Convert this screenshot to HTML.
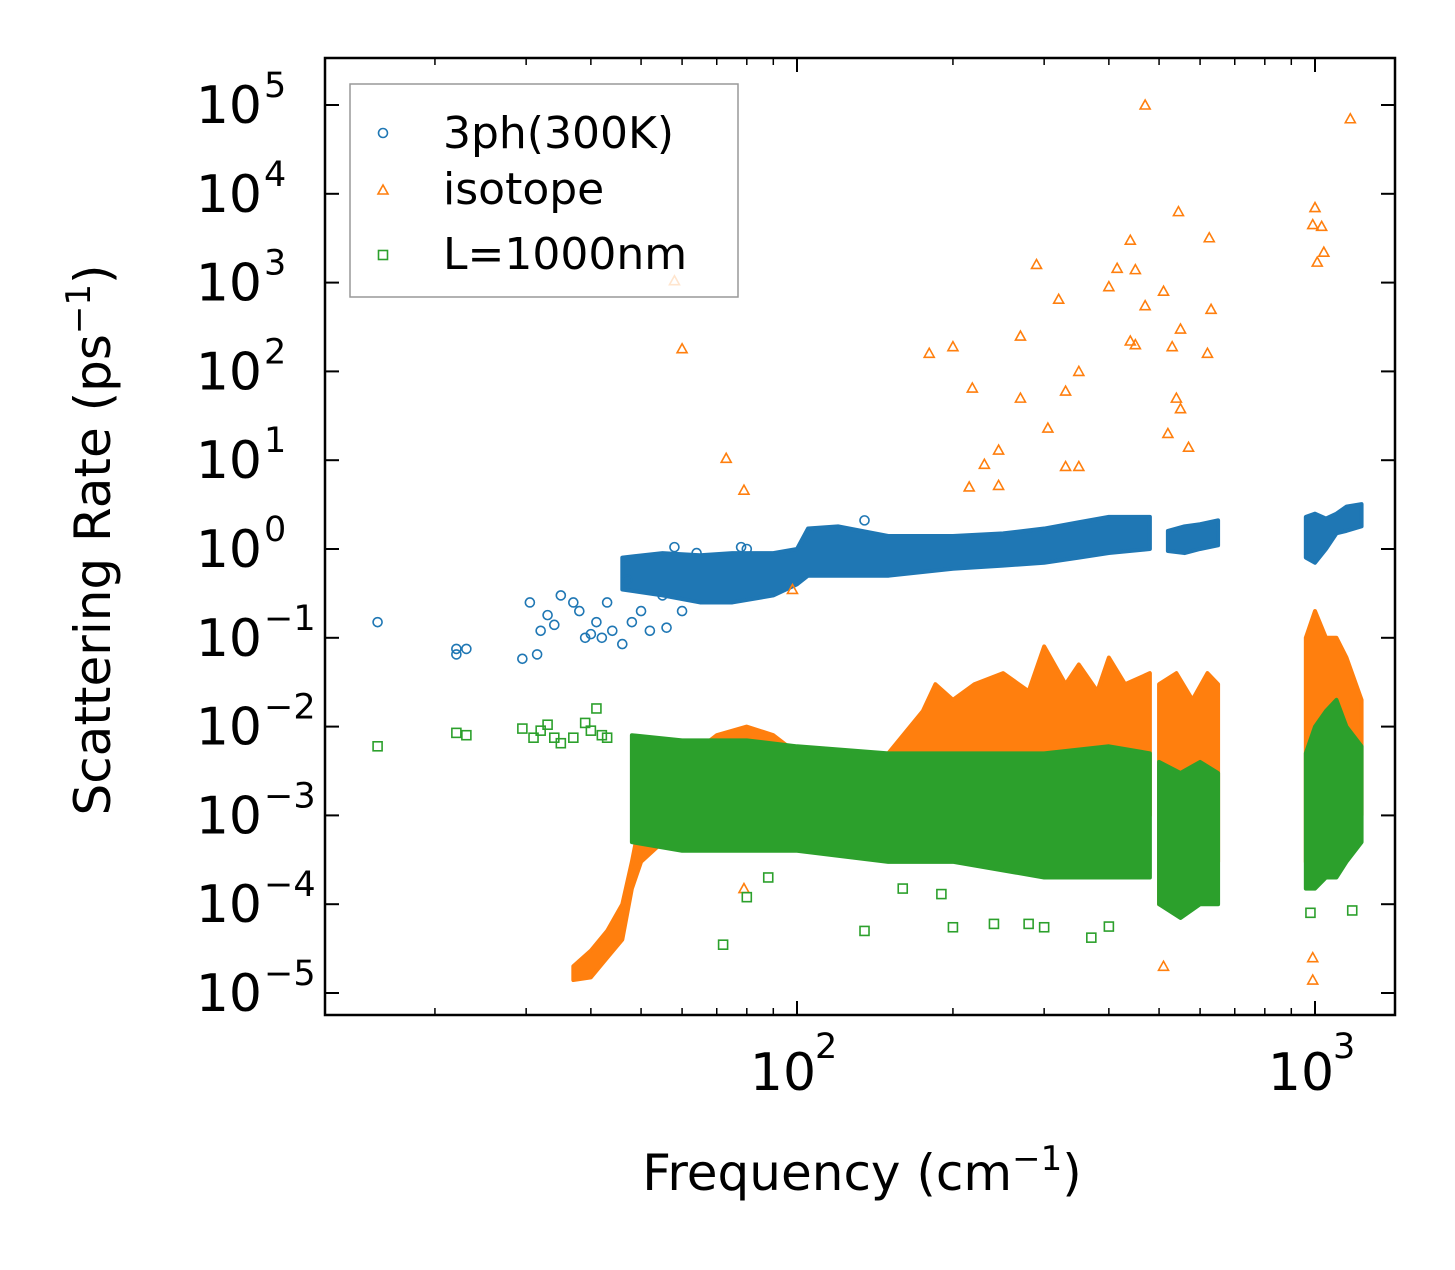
<!DOCTYPE html>
<html><head><meta charset="utf-8"><style>
body{margin:0;background:#fff}
svg text{font-family:"DejaVu Sans","Liberation Sans",sans-serif;fill:#000}
</style></head><body>
<svg id="chart" width="1455" height="1265" xmlns="http://www.w3.org/2000/svg">
<g id="bands"></g><g id="pts"></g><g id="axes"></g>
</svg>
<script>
// ---- data ----
const xTicks=[100,1000];
const yTicks=[1e-5,1e-4,1e-3,1e-2,1e-1,1,10,100,1000,1e4,1e5];
const yExp=[-5,-4,-3,-2,-1,0,1,2,3,4,5];
const blueF=[15.5,22,22,23,29.5,30.5,31.5,32,33,34,35,37,38,39,40,41,42,43,44,46,47,48,50,52,55,56,58,60,64,78,80,135];
const blueV=[0.15,0.065,0.075,0.075,0.058,0.25,0.065,0.12,0.18,0.14,0.3,0.25,0.2,0.1,0.11,0.15,0.1,0.25,0.12,0.085,0.45,0.15,0.2,0.12,0.3,0.13,1.05,0.2,0.9,1.05,1.0,2.1];
const orangeF=[470,1170,545,1000,990,1030,1040,1010,625,440,290,415,450,58,400,510,320,630,470,270,550,180,200,450,440,620,530,60,350,218,330,270,540,550,305,520,570,245,230,330,350,73,79,215,245,98,510,990,990,79];
const orangeV=[1e5,7e4,6300,7000,4500,4300,2200,1700,3200,3000,1600,1450,1400,1050,900,800,650,500,550,250,300,160,190,200,220,160,190,180,100,65,60,50,50,38,23,20,14,13,9,8.5,8.5,10.5,4.6,5,5.2,0.35,2e-5,2.5e-5,1.4e-5,1.5e-4];
const greenF=[15.5,22,23,29.5,31,32,33,34,35,37,39,40,41,42,43,72,135,200,240,280,300,370,400,1180,88,80,160,190,980];
const greenV=[0.006,0.0085,0.008,0.0095,0.0075,0.009,0.0105,0.0075,0.0065,0.0075,0.011,0.009,0.016,0.008,0.0075,3.5e-5,5e-5,5.5e-5,6e-5,6e-5,5.5e-5,4.2e-5,5.6e-5,8.5e-5,2e-4,1.2e-4,1.5e-4,1.3e-4,8e-5];
// dense-cloud envelopes
const blueBandF1=[46,55,65,75,90,100,105,120,150,200,250,300,350,400,480];
const blueBandLo1=[0.35,0.3,0.25,0.25,0.3,0.4,0.5,0.5,0.5,0.6,0.65,0.7,0.8,0.9,1.0];
const blueBandHi1=[0.8,0.9,0.85,0.9,0.9,1.0,1.7,1.8,1.4,1.4,1.5,1.7,2.0,2.3,2.3];
const blueBandF2=[520,560,600,650];
const blueBandLo2=[0.95,0.9,1.0,1.1];
const blueBandHi2=[1.6,1.8,1.9,2.1];
const blueBandF3=[960,1000,1050,1100,1150,1230];
const blueBandLo3=[0.8,0.7,1.0,1.5,1.6,1.8];
const blueBandHi3=[2.3,2.5,2.2,2.5,3.0,3.2];
const orBandF1=[37,40,43,46,48,50,55,60,70,80,90,100,120,150,175,185,200,220,250,280,300,330,350,380,400,430,480];
const orBandLo1=[1.4e-5,1.5e-5,2.5e-5,4e-5,1.5e-4,3e-4,5e-4,6e-4,6e-4,7e-4,8e-4,8e-4,1e-3,1e-3,1e-3,1e-3,1e-3,1e-3,1e-3,1e-3,1e-3,1e-3,1e-3,1e-3,1e-3,1e-3,1e-3];
const orBandHi1=[2e-5,3e-5,5e-5,1e-4,3e-4,1e-3,3e-3,4e-3,8e-3,1e-2,8e-3,5e-3,4e-3,5e-3,1.5e-2,3e-2,2e-2,3e-2,4e-2,2.5e-2,8e-2,3e-2,5e-2,2.5e-2,6e-2,3e-2,4e-2];
const orBandF2=[500,540,580,620,650];
const orBandLo2=[1e-4,8e-5,2e-4,3e-4,3e-4];
const orBandHi2=[3e-2,4e-2,2e-2,4e-2,3e-2];
const orBandF3=[960,1000,1050,1100,1150,1230];
const orBandLo3=[3e-4,3e-4,5e-4,6e-4,8e-4,1e-3];
const orBandHi3=[0.1,0.2,0.1,0.1,0.06,0.02];
const grBandF1=[48,60,80,100,150,200,300,400,480];
const grBandLo1=[5e-4,4e-4,4e-4,4e-4,3e-4,3e-4,2e-4,2e-4,2e-4];
const grBandHi1=[8e-3,7e-3,7e-3,6e-3,5e-3,5e-3,5e-3,6e-3,5e-3];
const grBandF2=[500,550,600,650];
const grBandLo2=[1e-4,7e-5,1e-4,1e-4];
const grBandHi2=[4e-3,3e-3,4e-3,3e-3];
const grBandF3=[960,1000,1050,1100,1150,1230];
const grBandLo3=[1.5e-4,1.5e-4,2e-4,2e-4,3e-4,5e-4];
const grBandHi3=[5e-3,1e-2,1.5e-2,2e-2,1e-2,6e-3];

// ---- axes ----
const L=325,R=1395,T=58,B=1015;
const X=f=>797+518*(Math.log10(f)-2);
const Y=v=>549-88.8*Math.log10(v);
const NS='http://www.w3.org/2000/svg';
function mk(tag,attrs,parent){const e=document.createElementNS(NS,tag);for(const k in attrs)e.setAttribute(k,attrs[k]);parent.appendChild(e);return e;}
const C={b:'#1f77b4',o:'#ff7f0e',g:'#2ca02c'};
const gB=document.getElementById('bands'),gP=document.getElementById('pts'),gA=document.getElementById('axes');

function band(F,lo,hi,col,name){
  let pts=F.map((f,i)=>X(f)+','+Y(hi[i]));
  for(let i=F.length-1;i>=0;i--)pts.push(X(F[i])+','+Y(lo[i]));
  const p=mk('polygon',{points:pts.join(' '),fill:col,stroke:col,'stroke-width':4,'stroke-linejoin':'round'},gB);
  
  
}
function marker(type,x,y,col,parent){
  let e;
  if(type==='o')e=mk('circle',{cx:x,cy:y,r:4.5,fill:'none',stroke:col,'stroke-width':1.6},parent);
  else if(type==='^')e=mk('polygon',{points:`${x},${y-5} ${x-5},${y+4} ${x+5},${y+4}`,fill:'none',stroke:col,'stroke-width':1.6},parent);
  else e=mk('rect',{x:x-4.5,y:y-4.5,width:9,height:9,fill:'none',stroke:col,'stroke-width':1.6},parent);
  return e;
}
band(blueBandF1,blueBandLo1,blueBandHi1,C.b,'3ph-cloud-1');
band(blueBandF2,blueBandLo2,blueBandHi2,C.b,'3ph-cloud-2');
band(blueBandF3,blueBandLo3,blueBandHi3,C.b,'3ph-cloud-3');
blueF.forEach((f,i)=>{const e=marker('o',X(f),Y(blueV[i]),C.b,gP);

});
band(orBandF1,orBandLo1,orBandHi1,C.o,'isotope-cloud-1');
band(orBandF2,orBandLo2,orBandHi2,C.o,'isotope-cloud-2');
band(orBandF3,orBandLo3,orBandHi3,C.o,'isotope-cloud-3');
orangeF.forEach((f,i)=>{const e=marker('^',X(f),Y(orangeV[i]),C.o,gP);

});
band(grBandF1,grBandLo1,grBandHi1,C.g,'boundary-cloud-1');
band(grBandF2,grBandLo2,grBandHi2,C.g,'boundary-cloud-2');
band(grBandF3,grBandLo3,grBandHi3,C.g,'boundary-cloud-3');
greenF.forEach((f,i)=>{const e=marker('s',X(f),Y(greenV[i]),C.g,gP);

});

// frame
const fr=mk('rect',{x:L,y:T,width:R-L,height:B-T,fill:'none',stroke:'#000','stroke-width':2.5},gA);


// y ticks
yTicks.forEach((v,i)=>{const y=Y(v);
  mk('line',{x1:L,x2:L+14,y1:y,y2:y,stroke:'#000','stroke-width':2},gA);
  mk('line',{x1:R,x2:R-14,y1:y,y2:y,stroke:'#000','stroke-width':2},gA);
  const t=mk('text',{x:262,y:y+18,'font-size':52,'text-anchor':'end'},gA);t.textContent='10';
  
  
  const s=mk('text',{x:264,y:y-8,'font-size':35},gA);s.textContent=yExp[i]<0?'\u2212'+(-yExp[i]):String(yExp[i]);
  
  
});
// x ticks
xTicks.forEach(v=>{const x=X(v);
  mk('line',{x1:x,x2:x,y1:B,y2:B-14,stroke:'#000','stroke-width':2},gA);
  mk('line',{x1:x,x2:x,y1:T,y2:T+14,stroke:'#000','stroke-width':2},gA);
  const t=mk('text',{x:x-14,y:1090,'font-size':52,'text-anchor':'middle'},gA);t.textContent='10';
  
  
  const s=mk('text',{x:x+18,y:1058,'font-size':35},gA);s.textContent=v===100?'2':'3';
  
  
});
[20,30,40,50,60,70,80,90,200,300,400,500,600,700,800,900].forEach(v=>{const x=X(v);
  mk('line',{x1:x,x2:x,y1:B,y2:B-7,stroke:'#000','stroke-width':1.5},gA);
  mk('line',{x1:x,x2:x,y1:T,y2:T+7,stroke:'#000','stroke-width':1.5},gA);});
</script>
<svg style="position:absolute;left:0;top:0" width="1455" height="1265" xmlns="http://www.w3.org/2000/svg">
<text x="862" y="1190" font-size="50" text-anchor="middle">Frequency (cm<tspan dy="-20" font-size="34">−1</tspan><tspan dy="20">)</tspan></text>
<text transform="translate(110,540) rotate(-90)" font-size="50" text-anchor="middle">Scattering Rate (ps<tspan dy="-20" font-size="34">−1</tspan><tspan dy="20">)</tspan></text>
<g>
<rect x="350" y="84" width="388" height="213" fill="#fff" fill-opacity="0.8" stroke="#999" stroke-width="1.5"/>
<circle cx="383" cy="133" r="4.5" fill="none" stroke="#1f77b4" stroke-width="1.6"/>
<text x="443" y="148" font-size="44">3ph(300K)</text>
<polygon points="383,185 378,194 388,194" fill="none" stroke="#ff7f0e" stroke-width="1.6"/>
<text x="443" y="204" font-size="44">isotope</text>
<rect x="378.5" y="250.5" width="9" height="9" fill="none" stroke="#2ca02c" stroke-width="1.6"/>
<text x="443" y="269" font-size="44">L=1000nm</text>
</g>
</svg>
</body></html>
